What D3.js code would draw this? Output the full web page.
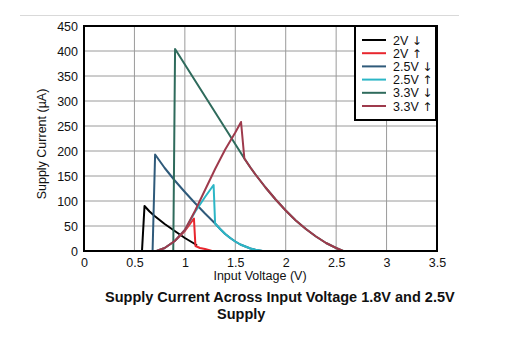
<!DOCTYPE html>
<html><head><meta charset="utf-8">
<script src="https://cdn.jsdelivr.net/npm/d3@7"></script>
<style>
html,body{margin:0;padding:0;background:#fff;}
svg{display:block;font-family:"Liberation Sans",Arial,sans-serif;}
</style></head>
<body><svg id="c" width="510" height="356"></svg>
<script>
const xTicks = [0, 0.5, 1, 1.5, 2, 2.5, 3, 3.5];
const xTickLabels = ["0", "0.5", "1", "1.5", "2", "2.5", "3", "3.5"];
const yTicks = [0, 50, 100, 150, 200, 250, 300, 350, 400, 450];
const seriesLabels = ["2V", "2V", "2.5V", "2.5V", "3.3V", "3.3V"];
const seriesArrows = ["\u2193", "\u2191", "\u2193", "\u2191", "\u2193", "\u2191"];
const seriesColors = ["#000000", "#e8262e", "#2f5a7a", "#2cb6c6", "#2f6b5c", "#9e3a4c"];

const s2vDownV = [0, 0.575, 0.6, 0.65, 0.7, 0.8, 0.9, 1.0, 1.1, 1.12];
const s2vDownI = [0, 0, 90, 79, 70, 54, 40, 26, 14, 11];
const s2vUpV = [0.72, 0.8, 0.9, 1.0, 1.09, 1.105, 1.15, 1.2, 1.27];
const s2vUpI = [0, 6, 20, 40, 65, 10, 6, 4, 0];
const s25DownV = [0, 0.68, 0.705, 0.8, 0.9, 1.0, 1.1, 1.2, 1.3, 1.35, 1.4, 1.45, 1.5, 1.55, 1.6, 1.65, 1.7, 1.77];
const s25DownI = [0, 0, 193, 166, 141, 118, 96, 75, 55, 44, 34, 26, 19, 13, 9, 5, 2.5, 0];
const s25UpV = [0.72, 0.8, 0.9, 1.0, 1.1, 1.2, 1.285, 1.3, 1.35, 1.4, 1.45, 1.5, 1.55, 1.6, 1.65, 1.7, 1.77];
const s25UpI = [0, 6, 20, 42, 78, 108, 132, 55, 44, 34, 26, 19, 13, 9, 5, 2.5, 0];
const s33DownV = [0, 0.885, 0.903, 1.59, 1.65, 1.7, 1.8, 1.9, 2.0, 2.1, 2.2, 2.3, 2.4, 2.5, 2.57];
const s33DownI = [0, 0, 404, 185, 167, 153, 127, 103, 81, 61, 44, 29, 16, 6, 0];
const s33UpV = [0.72, 0.8, 0.9, 1.0, 1.1, 1.2, 1.3, 1.4, 1.5, 1.557, 1.59, 1.65, 1.7, 1.8, 1.9, 2.0, 2.1, 2.2, 2.3, 2.4, 2.5, 2.57];
const s33UpI = [0, 6, 20, 42, 80, 122, 164, 203, 237, 258, 185, 167, 153, 127, 103, 81, 61, 44, 29, 16, 6, 0];

const seriesV = [s2vDownV, s2vUpV, s25DownV, s25UpV, s33DownV, s33UpV];
const seriesI = [s2vDownI, s2vUpI, s25DownI, s25UpI, s33DownI, s33UpI];

const svg = d3.select("#c");
const L = 84, R = 437, T = 26, B = 251;
const x = d3.scaleLinear().domain([0, 3.5]).range([L, R]);
const y = d3.scaleLinear().domain([0, 450]).range([B, T]);

svg.append("line").attr("x1", 20).attr("x2", 459).attr("y1", 15.5).attr("y2", 15.5)
  .attr("stroke", "#d9d9d9").attr("stroke-width", 1);

const g = svg.append("g");
g.selectAll(".vg").data(xTicks).join("line")
  .attr("x1", d => x(d)).attr("x2", d => x(d)).attr("y1", T).attr("y2", B)
  .attr("stroke", "#9a9a9a").attr("stroke-width", 1);
g.selectAll(".hg").data(yTicks).join("line")
  .attr("x1", L).attr("x2", R).attr("y1", d => y(d)).attr("y2", d => y(d))
  .attr("stroke", "#9a9a9a").attr("stroke-width", 1);

const xAxis = d3.axisBottom(x).tickValues(xTicks).tickFormat((d, i) => xTickLabels[i]).tickSize(0).tickPadding(7);
const yAxis = d3.axisLeft(y).tickValues(yTicks).tickSize(0).tickPadding(6);
const gx = svg.append("g").attr("transform", `translate(0,${B})`).call(xAxis);
const gy = svg.append("g").attr("transform", `translate(${L},0)`).call(yAxis);
[gx, gy].forEach(a => {
  a.select(".domain").remove();
  a.selectAll("text").attr("font-size", 12.5).attr("fill", "#111").attr("font-family", "Liberation Sans, Arial, sans-serif");
});

const line = d3.line().x(d => x(d[0])).y(d => y(d[1])).curve(d3.curveLinear);
seriesV.forEach((vs, k) => {
  const pts = vs.map((v, i) => [v, seriesI[k][i]]);
  svg.append("path").datum(pts).attr("d", line).attr("fill", "none")
    .attr("stroke", seriesColors[k]).attr("stroke-width", 2).attr("stroke-linejoin", "round");
});

svg.append("rect").attr("x", L).attr("y", T).attr("width", R - L).attr("height", B - T)
  .attr("fill", "none").attr("stroke", "#000").attr("stroke-width", 2);

const lg = svg.append("g");
lg.append("rect").attr("x", 355).attr("y", 26).attr("width", 81).attr("height", 94)
  .attr("fill", "#fff").attr("stroke", "#000").attr("stroke-width", 2);
seriesLabels.forEach((n, i) => {
  const yy = 40 + i * 13.2;
  lg.append("line").attr("x1", 362).attr("x2", 386).attr("y1", yy).attr("y2", yy)
    .attr("stroke", seriesColors[i]).attr("stroke-width", 2);
  const t = lg.append("text").attr("x", 393).attr("y", yy + 4.5).attr("font-size", 12.5).attr("fill", "#111");
  t.append("tspan").text(n + " ");
  t.append("tspan").attr("font-family", "DejaVu Sans").attr("font-size", 12).text(seriesArrows[i]);
});

svg.append("text").attr("x", 260).attr("y", 280).attr("text-anchor", "middle")
  .attr("font-size", 12.5).attr("fill", "#111").text("Input Voltage (V)");
svg.append("text").attr("transform", "translate(46,144) rotate(-90)").attr("text-anchor", "middle")
  .attr("font-size", 12.5).attr("fill", "#111").text("Supply Current (\u00b5A)");

svg.append("text").attr("x", 105).attr("y", 302).attr("font-size", 14.5).attr("font-weight", "bold")
  .attr("fill", "#111").text("Supply Current Across Input Voltage 1.8V and 2.5V");
svg.append("text").attr("x", 217).attr("y", 319).attr("font-size", 14.5).attr("font-weight", "bold")
  .attr("fill", "#111").text("Supply");
</script></body></html>
